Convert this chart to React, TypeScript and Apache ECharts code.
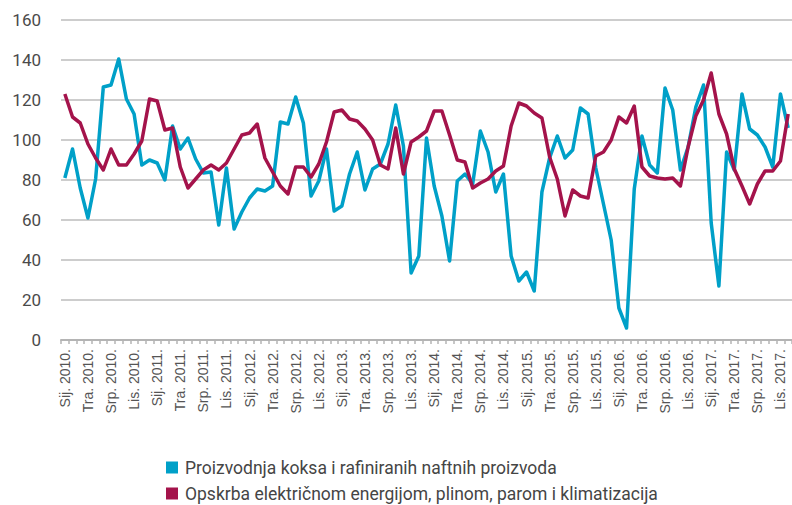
import React, { useEffect, useRef } from "react";
import * as echarts from "echarts";

const monthNames = ["Sij.", "Velj.", "Ožu.", "Tra.", "Svi.", "Lip.", "Srp.", "Kol.", "Ruj.", "Lis.", "Stu.", "Pro."];
const years = [2010, 2011, 2012, 2013, 2014, 2015, 2016, 2017];

const cokeRefined = [
  81, 95.5, 76, 61, 80.5, 126.5, 127.5, 140.5, 120.5, 113, 87.5, 90,
  88.5, 80, 107, 95.5, 101, 90.5, 83.5, 84, 57.5, 86, 55.5, 64,
  71, 75.5, 74.5, 77, 109, 108, 121.5, 108.5, 72, 79.5, 95.5, 64.5,
  67, 83, 94, 75, 85.5, 88, 98, 117.5, 97, 33.5, 42, 101,
  77, 62, 39.5, 79.5, 83, 78, 104.5, 94, 74, 83, 42, 29.5,
  34, 24.5, 74, 91, 102, 91, 95, 116, 113, 86, 68, 50,
  16, 6, 75.5, 102, 87.5, 83.5, 126, 115, 85, 96.5, 116.5, 127.5,
  58.5, 27, 94, 85, 123, 105.5, 102.5, 96.5, 86.5, 123, 106,
];

const electricity = [
  123, 111.5, 108.5, 98, 91, 85, 95.5, 87.5, 87.5, 93, 99.5, 120.5,
  119.5, 105, 106, 86.5, 76, 80.5, 85, 87.5, 85, 88.5, 95.5, 102.5,
  103.5, 108, 91, 84, 77, 73, 86.5, 86.5, 81.5, 88, 99, 114,
  115, 110.5, 109.5, 105.5, 100, 87.5, 85.5, 106, 83, 99, 101.5, 104.5,
  114.5, 114.5, 102.5, 90, 89, 76, 78.5, 80.5, 84.5, 87, 107, 118.5,
  117, 113.5, 111, 91.5, 80.5, 62, 75, 72, 71, 92, 94, 100,
  111.5, 108.5, 117, 86.5, 82, 81, 80.5, 81, 77, 96.5, 112, 120,
  133.5, 113, 103, 85.5, 77, 68, 78, 84.5, 84.5, 89.5, 113,
];

const seriesNames = [
  "Proizvodnja koksa i rafiniranih naftnih proizvoda",
  "Opskrba električnom energijom, plinom, parom i klimatizacija",
];

const categories: string[] = [];
for (const y of years) {
  for (const m of monthNames) {
    if (categories.length < cokeRefined.length) categories.push(`${m} ${y}.`);
  }
}

const BAND = 7.77;

export default function App() {
  const ref = useRef<HTMLDivElement>(null);
  useEffect(() => {
    if (!ref.current) return;
    const chart = echarts.init(ref.current, null, { renderer: "svg" });
    chart.setOption({
      animation: false,
      backgroundColor: "#ffffff",
      grid: {
        left: 61,
        top: 20,
        height: 320,
        width: BAND * categories.length,
        containLabel: false,
      },
      legend: {
        orient: "vertical",
        left: 166,
        top: 458,
        height: 47,
        padding: 0,
        itemWidth: 12,
        itemHeight: 12,
        itemGap: 7,
        icon: "rect",
        textStyle: {
          fontFamily: "Roboto",
          fontSize: 17.5,
          lineHeight: 19,
          color: "#454545",
          padding: [0, 0, 0, 2],
        },
        data: seriesNames,
      },
      xAxis: {
        type: "category",
        data: categories,
        boundaryGap: true,
        axisLine: { show: true, lineStyle: { color: "#b4b4b4", width: 2 } },
        axisTick: { show: true, interval: 0, length: 4, lineStyle: { color: "#b4b4b4", width: 1.5 } },
        axisLabel: {
          interval: 2,
          rotate: 90,
          margin: 9,
          fontFamily: "Liberation Sans",
          fontSize: 14,
          color: "#555555",
        },
        splitLine: { show: false },
      },
      yAxis: {
        type: "value",
        min: 0,
        max: 160,
        interval: 20,
        axisLine: { show: false },
        axisTick: { show: false },
        axisLabel: {
          margin: 20,
          fontFamily: "Roboto",
          fontSize: 17,
          color: "#4a4a4a",
        },
        splitLine: { show: true, lineStyle: { color: "#bdbdbd", width: 1.5 } },
      },
      series: [
        {
          name: seriesNames[0],
          type: "line",
          data: cokeRefined,
          symbol: "none",
          itemStyle: { color: "#00a0c8" },
          lineStyle: { color: "#00a0c8", width: 3.5, join: "round" },
          z: 2,
        },
        {
          name: seriesNames[1],
          type: "line",
          data: electricity,
          symbol: "none",
          itemStyle: { color: "#a4134b" },
          lineStyle: { color: "#a4134b", width: 3.5, join: "round" },
          z: 3,
        },
      ],
    });
    return () => chart.dispose();
  }, []);
  return (
    <div
      ref={ref}
      style={{ position: "fixed", left: 0, top: 0, width: 792, height: 505, overflow: "hidden" }}
    />
  );
}
